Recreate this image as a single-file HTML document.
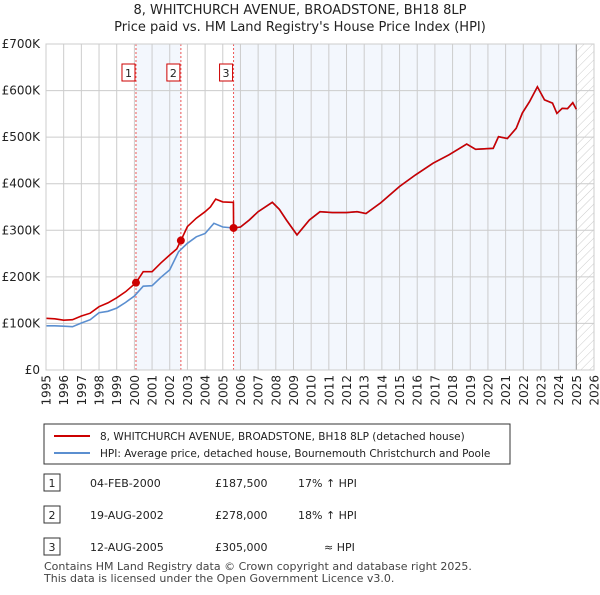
<!DOCTYPE html>
<html><head><meta charset="utf-8"><style>
body{margin:0;background:#fff;font-family:"Liberation Sans","DejaVu Sans",sans-serif;}
svg text{font-family:"DejaVu Sans","Liberation Sans",sans-serif;}
</style></head><body>
<svg id="c" width="600" height="590" xmlns="http://www.w3.org/2000/svg">
<defs><pattern id="hatch" width="6" height="6" patternUnits="userSpaceOnUse" patternTransform="rotate(45)"><line x1="0" y1="0" x2="0" y2="6" stroke="#ccc" stroke-width="1"/></pattern></defs>
<text x="300" y="14" text-anchor="middle" font-size="13" fill="#222">8, WHITCHURCH AVENUE, BROADSTONE, BH18 8LP</text>
<text x="300" y="31" text-anchor="middle" font-size="13" fill="#222">Price paid vs. HM Land Registry's House Price Index (HPI)</text>
<g id="plot"></g>
<g>
<rect x="44" y="424" width="466" height="40" fill="#fff" stroke="#333"/>
<line x1="54" y1="436" x2="90" y2="436" stroke="#cc0000" stroke-width="2"/>
<text x="100" y="440" font-size="10.5" fill="#222">8, WHITCHURCH AVENUE, BROADSTONE, BH18 8LP (detached house)</text>
<line x1="54" y1="453" x2="90" y2="453" stroke="#5b8fd0" stroke-width="2"/>
<text x="100" y="457" font-size="10.5" fill="#222">HPI: Average price, detached house, Bournemouth Christchurch and Poole</text>
</g>
<g font-size="11" fill="#222">
<rect x="44" y="474" width="16" height="17" fill="#fff" stroke="#333"/><text x="52" y="487" text-anchor="middle">1</text>
<text x="90" y="487">04-FEB-2000</text><text x="215" y="487">£187,500</text><text x="298" y="487">17% ↑ HPI</text>
<rect x="44" y="506" width="16" height="17" fill="#fff" stroke="#333"/><text x="52" y="519" text-anchor="middle">2</text>
<text x="90" y="519">19-AUG-2002</text><text x="215" y="519">£278,000</text><text x="298" y="519">18% ↑ HPI</text>
<rect x="44" y="538" width="16" height="17" fill="#fff" stroke="#333"/><text x="52" y="551" text-anchor="middle">3</text>
<text x="90" y="551">12-AUG-2005</text><text x="215" y="551">£305,000</text><text x="324" y="551">≈ HPI</text>
</g>
<text x="44" y="570" font-size="11" fill="#444">Contains HM Land Registry data © Crown copyright and database right 2025.</text>
<text x="44" y="582" font-size="11" fill="#444">This data is licensed under the Open Government Licence v3.0.</text>
</svg>
<script>
const yTicks=[0,100000,200000,300000,400000,500000,600000,700000];
const yTickLabels=["£0","£100K","£200K","£300K","£400K","£500K","£600K","£700K"];
const years=[1995,1996,1997,1998,1999,2000,2001,2002,2003,2004,2005,2006,2007,2008,2009,2010,2011,2012,2013,2014,2015,2016,2017,2018,2019,2020,2021,2022,2023,2024,2025,2026];
const saleDates=[2000.09,2002.63,2005.61];
const salePrices=[187500,278000,305000];
const saleLabels=["1","2","3"];
const redEarlyT=[1995,1995.5,1996,1996.5,1997,1997.5,1998,1998.5,1999,1999.5,2000.09,2000.5,2001,2001.5,2002,2002.4,2002.63,2003,2003.5,2004,2004.3,2004.6,2005,2005.5,2005.6];
const redEarlyV=[111000,110000,107000,108000,116000,122000,136000,144000,155000,168000,187500,211000,211000,230000,247000,260000,278000,308000,326000,340000,350000,367000,361000,360000,360000];
const hpiEarlyT=[1995,1995.5,1996,1996.5,1997,1997.5,1998,1998.5,1999,1999.5,2000,2000.5,2001,2001.5,2002,2002.5,2003,2003.5,2004,2004.5,2005,2005.61];
const hpiEarlyV=[95000,95000,94000,93000,101000,108000,123000,126000,133000,145000,159000,180000,181000,199000,215000,254000,272000,286000,293000,315000,307000,305000];
const laterT=[2005.61,2006,2006.5,2007,2007.8,2008.2,2008.6,2009.2,2009.9,2010.5,2011.2,2012,2012.6,2013.1,2013.9,2015,2015.9,2016.9,2017.8,2018.8,2019.3,2020.3,2020.6,2021.1,2021.6,2021.95,2022.35,2022.8,2023.2,2023.65,2023.9,2024.2,2024.5,2024.8,2025.0];
const laterV=[305000,307000,322000,340000,360000,345000,322000,290000,322000,340000,338000,338000,340000,336000,358000,394000,419000,444000,462000,485000,474000,476000,501000,497000,519000,552000,576000,608000,580000,573000,551000,562000,561000,574000,560000];
const X0=46,X1=594,Y0=370,Y1=44;
const xs=y=>X0+(y-1995)/(2026-1995)*(X1-X0);
const ys=v=>Y0-v/700000*(Y0-Y1);
const NS="http://www.w3.org/2000/svg";
const plot=document.getElementById('plot');
function mk(tag,attrs){const e=document.createElementNS(NS,tag);for(const k in attrs)e.setAttribute(k,attrs[k]);plot.appendChild(e);return e;}
let e;
e=mk('rect',{x:xs(saleDates[0]),y:Y1,width:xs(saleDates[1])-xs(saleDates[0]),height:Y0-Y1,fill:'#eef3fc',opacity:0.7});


e=mk('rect',{x:xs(saleDates[2]),y:Y1,width:xs(2025.0)-xs(saleDates[2]),height:Y0-Y1,fill:'#eef3fc',opacity:0.7});


e=mk('rect',{x:xs(2025.0),y:Y1,width:X1-xs(2025.0),height:Y0-Y1,fill:'url(#hatch)'});


years.forEach(y=>{
 e=mk('line',{x1:xs(y),x2:xs(y),y1:Y1,y2:Y0,stroke:'#cccccc','stroke-width':1});
 
 
 const tx=xs(y)+4.5, ty=375;
 e=mk('text',{x:tx,y:ty,'text-anchor':'end','font-size':12,fill:'#222',transform:'rotate(-90 '+tx+' '+ty+')'});e.textContent=y;
 
 
});
yTicks.forEach((v,i)=>{
 e=mk('line',{x1:X0,x2:X1,y1:ys(v),y2:ys(v),stroke:'#cccccc','stroke-width':1});
 
 
 e=mk('text',{x:40,y:ys(v)+4,'text-anchor':'end','font-size':12,fill:'#222'});e.textContent=yTickLabels[i];
 
 
});
e=mk('line',{x1:xs(2025.0),x2:xs(2025.0),y1:Y1,y2:Y0,stroke:'#999','stroke-width':1});


saleDates.forEach((d,i)=>{
 e=mk('line',{x1:xs(d),x2:xs(d),y1:Y1,y2:Y0,stroke:'#ee5555','stroke-width':1,'stroke-dasharray':'2,2'});
 
 
});
const pts=(T,V)=>T.map((t,i)=>xs(t).toFixed(1)+','+ys(V[i]).toFixed(1)).join(' ');
e=mk('polyline',{points:pts(hpiEarlyT,hpiEarlyV)+' '+pts(laterT,laterV),fill:'none',stroke:'#5b8fd0','stroke-width':1.6});


e=mk('polyline',{points:pts(redEarlyT,redEarlyV)+' '+pts(laterT,laterV),fill:'none',stroke:'#cc0000','stroke-width':1.6});


saleDates.forEach((d,i)=>{
 e=mk('circle',{cx:xs(d),cy:ys(salePrices[i]),r:4,fill:'#cc0000'});
 
 
 e=mk('rect',{x:xs(d)-14,y:64,width:13,height:17,fill:'#fff',stroke:'#cc0000'});
 
 
 e=mk('text',{x:xs(d)-7.5,y:77,'text-anchor':'middle','font-size':11,fill:'#222'});e.textContent=saleLabels[i];
 
 
});
e=mk('rect',{x:X0,y:Y1,width:X1-X0,height:Y0-Y1,fill:'none',stroke:'#cccccc'});


</script>
</body></html>
